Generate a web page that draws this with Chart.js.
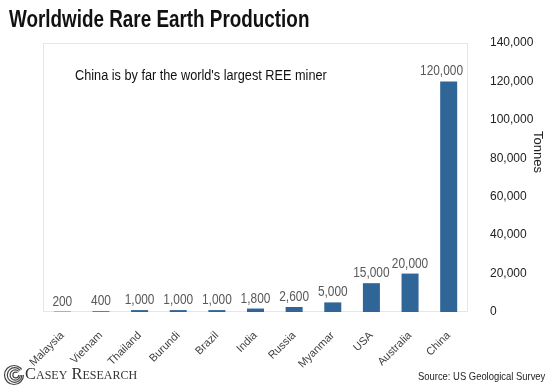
<!DOCTYPE html>
<html>
<head>
<meta charset="utf-8">
<script src="https://cdn.jsdelivr.net/npm/chart.js@4/dist/chart.umd.min.js"></script>
<style>
  html, body { margin: 0; padding: 0; background: #fff; }
  #wrap { position: relative; width: 550px; height: 390px; overflow: hidden; background: #fff; }
  #c { position: absolute; left: 0; top: 0; }
  .txt { position: absolute; white-space: nowrap; }
  #title { left: 9px; top: 8px; font: bold 23px/23px "Liberation Sans", Arial, sans-serif; color: #111; transform: scaleX(0.82); transform-origin: 0 0; }
  #note { left: 75px; top: 67px; font: 15.5px/16px "Liberation Sans", Arial, sans-serif; color: #111; transform: scaleX(0.82); transform-origin: 0 0; }
  #source { right: 5px; top: 370px; font: 11.5px/12px "Liberation Sans", Arial, sans-serif; color: #222; transform: scaleX(0.82); transform-origin: 100% 0; }
  #logo { left: 3px; top: 363px; }
  #brand { left: 25px; top: 364px; font: 16.5px/20px "Liberation Serif", serif; font-variant: small-caps; color: #333; }
</style>
</head>
<body>
<div id="wrap">
  <canvas id="c" width="550" height="390"></canvas>
  <div class="txt" id="title">Worldwide Rare Earth Production</div>
  <div class="txt" id="note">China is by far the world's largest REE miner</div>
  <div class="txt" id="source">Source: US Geological Survey</div>
  <svg class="txt" id="logo" width="22" height="24" viewBox="0 0 22 24">
    <g fill="none" stroke="#444" stroke-width="1.2">
      <circle cx="11" cy="12" r="9.5"/>
      <circle cx="11.6" cy="12" r="7.3"/>
      <circle cx="12.2" cy="12" r="5.1"/>
      <circle cx="12.8" cy="12" r="2.9"/>
    </g>
    <path d="M11 12 L22 4 L22 12 Z" fill="#fff"/>
  </svg>
  <div class="txt" id="brand">Casey Research</div>
</div>
<script>
const categories = ["Malaysia", "Vietnam", "Thailand", "Burundi", "Brazil", "India", "Russia", "Myanmar", "USA", "Australia", "China"];
const production = [200, 400, 1000, 1000, 1000, 1800, 2600, 5000, 15000, 20000, 120000];
const yMin = 0;
const yMax = 140000;
const yStep = 20000;
const yTitle = "Tonnes";

const fmt = v => v.toLocaleString("en-US");
const NARROW = 0.82;

const deco = {
  id: "deco",
  beforeDatasetsDraw(chart) {
    const { ctx, chartArea: a } = chart;
    ctx.save();
    ctx.strokeStyle = "#e6e6e6";
    ctx.lineWidth = 1;
    ctx.strokeRect(Math.round(a.left) + 0.5, Math.round(a.top) + 0.5, Math.round(a.right - a.left) - 1, Math.round(a.bottom - a.top) - 1);
    ctx.restore();
  },
  afterDatasetsDraw(chart) {
    const { ctx, chartArea: a } = chart;
    const meta = chart.getDatasetMeta(0);
    ctx.save();
    ctx.font = '14.5px "Liberation Sans", Arial, sans-serif';
    ctx.fillStyle = "#595959";
    ctx.textBaseline = "alphabetic";
    ctx.textAlign = "center";
    meta.data.forEach((bar, i) => {
      const s = fmt(production[i]);
      const w = ctx.measureText(s).width * NARROW;
      let x = bar.x;
      if (x + w / 2 > a.right - 5) x = a.right - 5 - w / 2;
      ctx.save();
      ctx.translate(x, bar.y - 6);
      ctx.scale(NARROW, 1);
      ctx.fillText(s, 0, 0);
      ctx.restore();
    });
    ctx.font = '13px "Liberation Sans", Arial, sans-serif';
    ctx.fillStyle = "#222";
    ctx.translate(538, 152);
    ctx.rotate(Math.PI / 2);
    ctx.textBaseline = "middle";
    ctx.fillText(yTitle, 0, 0);
    ctx.restore();
  }
};

new Chart(document.getElementById("c"), {
  type: "bar",
  data: {
    labels: categories,
    datasets: [{
      data: production,
      backgroundColor: "#2f6597",
      borderWidth: 0,
      barPercentage: 0.44,
      categoryPercentage: 1.0
    }]
  },
  options: {
    responsive: false,
    animation: false,
    devicePixelRatio: 1,
    layout: { padding: { left: 43, top: 43, right: 0, bottom: 0 } },
    plugins: { legend: { display: false }, tooltip: { enabled: false }, title: { display: false } },
    scales: {
      x: {
        grid: { display: false },
        border: { display: false },
        ticks: {
          autoSkip: false,
          minRotation: 45,
          maxRotation: 45,
          padding: 9,
          color: "#404040",
          font: { family: '"Liberation Sans", Arial, sans-serif', size: 11 }
        },
        afterFit: s => { s.height = 78; }
      },
      y: {
        position: "right",
        min: yMin,
        max: yMax,
        grid: { display: false },
        border: { display: false },
        ticks: {
          stepSize: yStep,
          padding: 14,
          color: "#222",
          font: { family: '"Liberation Sans", Arial, sans-serif', size: 12 },
          callback: v => fmt(v)
        },
        afterFit: s => { s.width = 82; }
      }
    }
  },
  plugins: [deco]
});
</script>
</body>
</html>
